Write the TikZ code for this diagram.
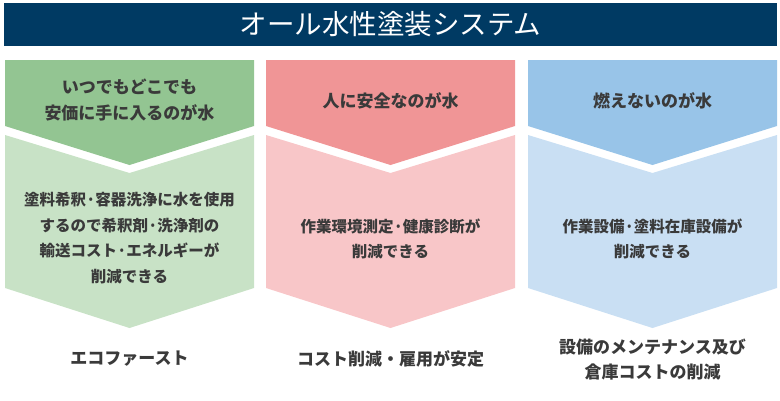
\documentclass[tikz,border=0pt]{standalone}
\usepackage{fontspec}
\setmainfont{Noto Sans CJK JP}
\usetikzlibrary{positioning}
\definecolor{navy}{HTML}{003A63}
\definecolor{greenDark}{HTML}{93C592}
\definecolor{greenLight}{HTML}{C8E2C6}
\definecolor{pinkDark}{HTML}{F09596}
\definecolor{pinkLight}{HTML}{F8C6C8}
\definecolor{blueDark}{HTML}{98C4E8}
\definecolor{blueLight}{HTML}{C9DFF3}
\definecolor{inkgray}{HTML}{3A3A3A}
\tikzset{
  titlebar/.style={fill=navy, text=white, minimum width=773pt, minimum height=43pt, inner sep=0pt, font=\fontsize{27.5}{30}\selectfont},
  headtext/.style={text=inkgray, align=center, font=\bfseries\fontsize{17}{26}\selectfont},
  bodytext/.style={text=inkgray, align=center, font=\bfseries\fontsize{15.5}{25.5}\selectfont},
  resulttext/.style={text=inkgray, align=center, font=\bfseries\fontsize{17}{25}\selectfont}
}

\begin{document}
\begin{tikzpicture}[x=1pt, y=-1pt]
  \useasboundingbox (0,0) rectangle (780,400);
  \node[titlebar] (title) at (390.5,24.5) {オール水性塗装システム};
  % green column
  \fill[greenDark] (5,60) -- (254,60) -- (254,126) -- (129.5,165) -- (5,126) -- cycle;
  \fill[greenLight] (5,135) -- (129.5,173) -- (254,135) -- (254,288) -- (129.5,328) -- (5,288) -- cycle;
  % pink column
  \fill[pinkDark] (266,60) -- (515,60) -- (515,126) -- (390.5,165) -- (266,126) -- cycle;
  \fill[pinkLight] (266,135) -- (390.5,173) -- (515,135) -- (515,288) -- (390.5,328) -- (266,288) -- cycle;
  % blue column
  \fill[blueDark] (528,60) -- (777,60) -- (777,126) -- (652.5,165) -- (528,126) -- cycle;
  \fill[blueLight] (528,135) -- (652.5,173) -- (777,135) -- (777,288) -- (652.5,328) -- (528,288) -- cycle;

  \node[headtext] (headA) at (129.5,100) {いつでもどこでも\\安価に手に入るのが水};
  \node[headtext] (headB) at (390.5,101) {人に安全なのが水};
  \node[headtext] (headC) at (652.5,101) {燃えないのが水};

  \node[bodytext] (bodyA) at (129.5,238) {塗料希釈·容器洗浄に水を使用\\するので希釈剤·洗浄剤の\\輸送コスト·エネルギーが\\削減できる};
  \node[bodytext] (bodyB) at (390.5,239) {作業環境測定·健康診断が\\削減できる};
  \node[bodytext] (bodyC) at (652.5,239) {作業設備·塗料在庫設備が\\削減できる};

  \node[resulttext] (resA) at (129.5,359) {エコファースト};
  \node[resulttext] (resB) at (390.5,359) {コスト削減・雇用が安定};
  \node[resulttext] (resC) at (652.5,360) {設備のメンテナンス及び\\倉庫コストの削減};
\end{tikzpicture}
\end{document}
